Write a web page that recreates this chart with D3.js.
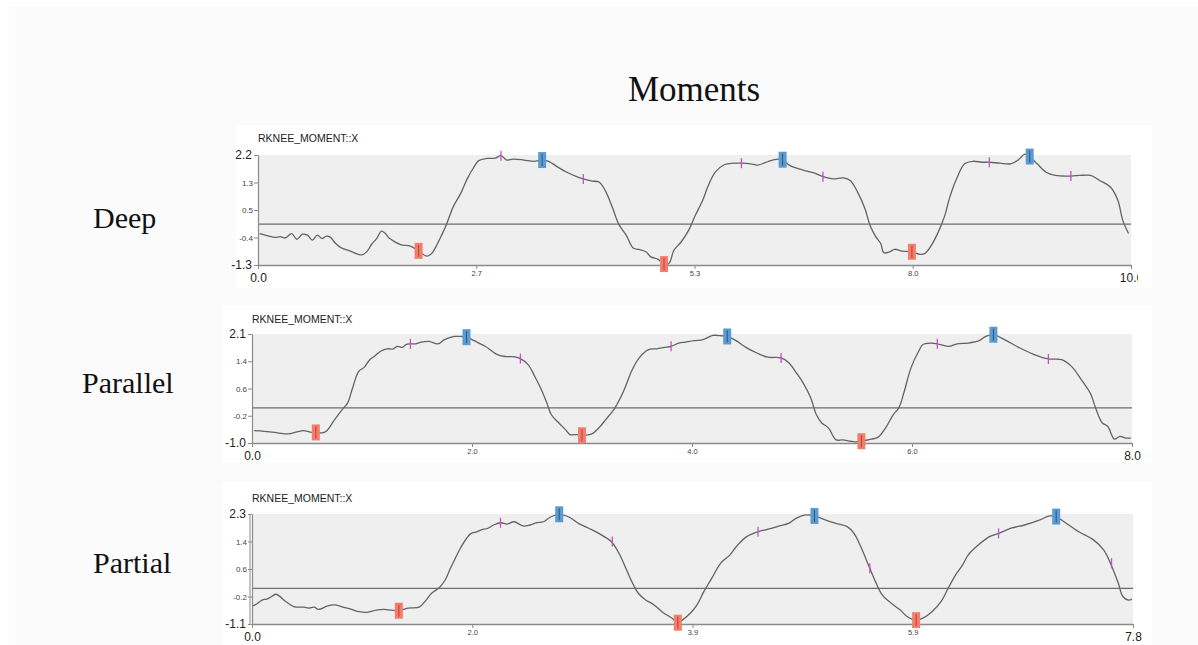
<!DOCTYPE html>
<html>
<head>
<meta charset="utf-8">
<script src="https://cdn.jsdelivr.net/npm/d3@7"></script>
<style>
  body { margin: 0; background: #fff; }
  svg { display: block; }
</style>
</head>
<body>
<svg id="chart" width="1198" height="645"></svg>
<script>
// knee moment traces, [time, moment]
const deepSeries = [[0.02,-0.30],[0.13,-0.38],[0.21,-0.42],[0.27,-0.40],[0.33,-0.44],[0.41,-0.30],[0.47,-0.48],[0.54,-0.32],[0.60,-0.35],[0.66,-0.51],[0.72,-0.35],[0.78,-0.46],[0.83,-0.38],[0.88,-0.42],[0.94,-0.61],[1.00,-0.74],[1.12,-0.86],[1.26,-0.98],[1.32,-0.88],[1.38,-0.64],[1.44,-0.46],[1.50,-0.22],[1.54,-0.28],[1.60,-0.46],[1.73,-0.65],[1.85,-0.70],[1.95,-0.85],[2.05,-1.02],[2.11,-0.93],[2.17,-0.67],[2.23,-0.35],[2.29,0.0],[2.37,0.55],[2.46,0.97],[2.54,1.44],[2.62,1.81],[2.68,2.02],[2.78,2.09],[2.88,2.10],[2.95,2.18],[3.02,2.04],[3.10,2.07],[3.23,2.04],[3.35,2.0],[3.45,2.04],[3.53,2.0],[3.63,1.83],[3.75,1.65],[3.87,1.51],[3.95,1.44],[4.06,1.37],[4.14,1.34],[4.22,1.05],[4.30,0.55],[4.38,0.0],[4.47,-0.35],[4.56,-0.77],[4.62,-0.80],[4.71,-0.88],[4.77,-1.04],[4.86,-1.12],[4.93,-1.27],[4.99,-1.25],[5.05,-0.83],[5.14,-0.56],[5.23,-0.19],[5.31,0.28],[5.40,0.76],[5.46,1.18],[5.55,1.65],[5.66,1.89],[5.77,1.94],[5.87,1.94],[5.98,1.92],[6.07,1.88],[6.20,2.0],[6.31,2.07],[6.37,2.05],[6.46,1.86],[6.61,1.73],[6.76,1.62],[6.86,1.51],[6.98,1.44],[7.11,1.47],[7.19,1.39],[7.28,1.02],[7.37,0.49],[7.43,-0.03],[7.50,-0.40],[7.56,-0.61],[7.60,-0.91],[7.67,-0.88],[7.73,-0.80],[7.82,-0.86],[7.94,-0.88],[8.04,-0.96],[8.10,-0.93],[8.19,-0.61],[8.27,-0.19],[8.34,0.28],[8.40,0.86],[8.49,1.49],[8.58,1.92],[8.68,2.0],[8.79,1.97],[8.88,1.97],[9.01,1.94],[9.14,1.92],[9.23,2.04],[9.31,2.23],[9.37,2.15],[9.46,1.92],[9.57,1.65],[9.68,1.55],[9.87,1.53],[9.98,1.55],[10.11,1.55],[10.22,1.39],[10.35,1.18],[10.44,0.76],[10.50,0.12],[10.57,-0.30]];
const parallelSeries = [[0.02,-0.65],[0.11,-0.67],[0.23,-0.71],[0.33,-0.74],[0.40,-0.69],[0.47,-0.65],[0.53,-0.69],[0.58,-0.70],[0.64,-0.71],[0.68,-0.65],[0.75,-0.34],[0.82,-0.05],[0.87,0.14],[0.91,0.52],[0.97,1.04],[1.02,1.15],[1.07,1.37],[1.11,1.46],[1.17,1.61],[1.23,1.68],[1.28,1.67],[1.32,1.75],[1.37,1.72],[1.40,1.80],[1.44,1.82],[1.49,1.82],[1.54,1.87],[1.61,1.89],[1.69,1.82],[1.75,1.94],[1.84,2.03],[1.90,2.03],[1.95,2.01],[2.02,1.91],[2.12,1.75],[2.22,1.53],[2.30,1.46],[2.39,1.45],[2.44,1.40],[2.51,1.23],[2.57,0.90],[2.63,0.52],[2.68,0.14],[2.72,-0.19],[2.79,-0.43],[2.85,-0.62],[2.89,-0.76],[2.95,-0.76],[3.00,-0.78],[3.09,-0.74],[3.15,-0.58],[3.22,-0.32],[3.30,0.0],[3.36,0.35],[3.40,0.64],[3.45,1.04],[3.52,1.42],[3.60,1.65],[3.68,1.68],[3.75,1.72],[3.81,1.75],[3.88,1.84],[3.94,1.87],[4.02,1.91],[4.10,1.94],[4.19,2.06],[4.27,2.05],[4.32,2.03],[4.40,1.91],[4.49,1.72],[4.59,1.56],[4.69,1.44],[4.81,1.42],[4.88,1.28],[4.95,0.99],[5.01,0.71],[5.08,0.28],[5.13,-0.19],[5.18,-0.43],[5.24,-0.57],[5.31,-0.91],[5.37,-0.91],[5.44,-0.95],[5.50,-0.97],[5.54,-0.95],[5.63,-0.89],[5.69,-0.84],[5.76,-0.57],[5.83,-0.19],[5.88,0.0],[5.93,0.47],[5.99,1.13],[6.06,1.61],[6.10,1.80],[6.17,1.84],[6.23,1.82],[6.33,1.75],[6.41,1.82],[6.51,1.84],[6.61,1.91],[6.67,2.03],[6.74,2.08],[6.84,1.94],[6.97,1.72],[7.10,1.53],[7.24,1.39],[7.36,1.37],[7.45,1.18],[7.55,0.75],[7.62,0.42],[7.68,-0.10],[7.73,-0.43],[7.78,-0.53],[7.84,-0.89],[7.89,-0.81],[7.94,-0.86],[7.99,-0.86]];
const partialSeries = [[0.01,-0.54],[0.04,-0.48],[0.09,-0.36],[0.13,-0.33],[0.16,-0.28],[0.21,-0.18],[0.24,-0.23],[0.30,-0.41],[0.37,-0.56],[0.46,-0.58],[0.50,-0.61],[0.55,-0.58],[0.59,-0.65],[0.67,-0.54],[0.73,-0.51],[0.79,-0.56],[0.88,-0.65],[0.95,-0.72],[1.02,-0.74],[1.10,-0.67],[1.17,-0.65],[1.23,-0.67],[1.30,-0.69],[1.38,-0.61],[1.48,-0.58],[1.53,-0.41],[1.59,-0.15],[1.66,0.03],[1.71,0.26],[1.75,0.57],[1.80,0.93],[1.84,1.21],[1.90,1.55],[1.94,1.70],[1.99,1.75],[2.03,1.81],[2.09,1.86],[2.14,1.96],[2.20,2.03],[2.26,1.99],[2.32,2.06],[2.40,1.93],[2.46,1.96],[2.52,2.03],[2.58,2.06],[2.64,2.20],[2.72,2.29],[2.81,2.20],[2.89,2.01],[2.98,1.86],[3.07,1.70],[3.18,1.45],[3.25,1.08],[3.31,0.62],[3.37,0.16],[3.42,-0.15],[3.48,-0.34],[3.56,-0.51],[3.64,-0.75],[3.72,-0.92],[3.77,-1.06],[3.81,-0.98],[3.88,-0.77],[3.94,-0.51],[4.00,-0.10],[4.07,0.31],[4.15,0.78],[4.23,1.03],[4.30,1.34],[4.38,1.60],[4.48,1.75],[4.57,1.83],[4.67,1.93],[4.75,2.01],[4.82,2.17],[4.90,2.27],[4.98,2.24],[5.08,2.11],[5.17,2.01],[5.27,1.91],[5.33,1.70],[5.39,1.29],[5.47,0.62],[5.52,0.21],[5.58,-0.20],[5.66,-0.46],[5.74,-0.67],[5.80,-0.87],[5.88,-0.98],[5.94,-0.92],[6.02,-0.72],[6.10,-0.41],[6.17,0.05],[6.23,0.42],[6.29,0.72],[6.34,1.03],[6.43,1.34],[6.53,1.60],[6.61,1.70],[6.72,1.86],[6.84,1.96],[6.97,2.11],[7.06,2.24],[7.12,2.22],[7.19,2.06],[7.32,1.75],[7.45,1.50],[7.54,1.19],[7.60,0.78],[7.67,0.16],[7.71,-0.25],[7.76,-0.36],[7.79,-0.33]];

// event markers: minima (red), maxima (blue), intermediate ticks (magenta)
const deepMin = [[1.95,-0.85],[4.93,-1.27],[7.94,-0.88]];
const deepMax = [[3.45,2.04],[6.37,2.05],[9.37,2.15]];
const deepMid = [[2.95,2.18],[3.95,1.44],[5.87,1.94],[6.86,1.51],[8.88,1.97],[9.87,1.53]];
const parallelMin = [[0.58,-0.70],[3.00,-0.78],[5.54,-0.95]];
const parallelMax = [[1.95,2.01],[4.32,2.03],[6.74,2.08]];
const parallelMid = [[1.44,1.82],[2.44,1.40],[3.81,1.75],[4.81,1.42],[6.23,1.82],[7.24,1.39]];
const partialMin = [[1.30,-0.69],[3.77,-1.06],[5.88,-0.98]];
const partialMax = [[2.72,2.29],[4.98,2.24],[7.12,2.22]];
const partialMid = [[2.20,2.03],[3.19,1.45],[4.48,1.75],[5.47,0.62],[6.61,1.70],[7.61,0.78]];

// tick labels as printed
const deepXLabels = ["0.0", "2.7", "5.3", "8.0", "10.6"];
const deepYLabels = ["-1.3", "-0.4", "0.5", "1.3", "2.2"];
const parallelXLabels = ["0.0", "2.0", "4.0", "6.0", "8.0"];
const parallelYLabels = ["-1.0", "-0.2", "0.6", "1.4", "2.1"];
const partialXLabels = ["0.0", "2.0", "3.9", "5.9", "7.8"];
const partialYLabels = ["-1.1", "-0.2", "0.6", "1.4", "2.3"];

const rowNames = ["Deep", "Parallel", "Partial"];
const panelTitle = "RKNEE_MOMENT::X";

const panels = [
    { name: rowNames[0], series: deepSeries, mins: deepMin, maxs: deepMax, mids: deepMid,
      xMax: 10.6, yMin: -1.3, yMax: 2.2, xLabels: deepXLabels, yLabels: deepYLabels,
      box: [236, 125, 1152, 288], plot: [258, 155, 1131, 265], clipRight: 1138,
      titleY: 142, labelX: 93, labelY: 228 },
    { name: rowNames[1], series: parallelSeries, mins: parallelMin, maxs: parallelMax, mids: parallelMid,
      xMax: 8.0, yMin: -1.0, yMax: 2.1, xLabels: parallelXLabels, yLabels: parallelYLabels,
      box: [222, 305, 1152, 463], plot: [252, 334, 1132, 443], clipRight: 1141,
      titleY: 323, labelX: 82, labelY: 393 },
    { name: rowNames[2], series: partialSeries, mins: partialMin, maxs: partialMax, mids: partialMid,
      xMax: 7.8, yMin: -1.1, yMax: 2.3, xLabels: partialXLabels, yLabels: partialYLabels,
      box: [222, 482, 1152, 645], plot: [252, 514, 1133, 624], clipRight: 1145,
      titleY: 502, labelX: 93, labelY: 573, doubleAxis: true }
];

const svg = d3.select("#chart");
const defs = svg.append("defs");

// slide background
svg.append("rect")
    .attr("x", 9).attr("y", 7)
    .attr("width", 1189).attr("height", 638)
    .attr("fill", "#fbfbfb");

svg.append("text")
    .attr("x", 694).attr("y", 101)
    .attr("text-anchor", "middle")
    .style("font-family", "'Liberation Serif', 'Times New Roman', serif")
    .style("font-size", "35px")
    .attr("fill", "#111")
    .text("Moments");

panels.forEach((p, idx) => drawPanel(p, idx));

function drawPanel(p, idx)
{
    const [px0, py0, px1, py1] = p.plot;
    const xScale = d3.scaleLinear().domain([0, p.xMax]).range([px0, px1]);
    const yScale = d3.scaleLinear().domain([p.yMin, p.yMax]).range([py1, py0]);
    const isEnd = i => i == 0 || i == 4;

    // row label
    svg.append("text")
        .attr("x", p.labelX).attr("y", p.labelY)
        .style("font-family", "'Liberation Serif', 'Times New Roman', serif")
        .style("font-size", "30px")
        .attr("fill", "#111")
        .text(p.name);

    svg.append("rect")
        .attr("x", p.box[0]).attr("y", p.box[1])
        .attr("width", p.box[2] - p.box[0]).attr("height", p.box[3] - p.box[1])
        .attr("fill", "#fff");

    // the exported chart image cuts the last x label
    defs.append("clipPath").attr("id", "clip" + idx)
        .append("rect")
        .attr("x", 0).attr("y", p.box[1])
        .attr("width", p.clipRight).attr("height", p.box[3] - p.box[1]);

    const g = svg.append("g").attr("clip-path", `url(#clip${idx})`);

    g.append("rect")
        .attr("x", px0).attr("y", py0)
        .attr("width", px1 - px0).attr("height", py1 - py0)
        .attr("fill", "#efefef");

    g.append("text")
        .attr("x", px0).attr("y", p.titleY)
        .style("font-family", "'Liberation Sans', Arial, sans-serif")
        .style("font-size", "10.5px")
        .attr("fill", "#222")
        .text(panelTitle);

    // zero reference line
    g.append("line")
        .attr("x1", px0).attr("x2", px1)
        .attr("y1", yScale(0)).attr("y2", yScale(0))
        .attr("stroke", "#6e6e6e").attr("stroke-width", 1.2);

    const yTicks = d3.range(5).map(i => p.yMin + i * (p.yMax - p.yMin) / 4);
    const xTicks = d3.range(5).map(i => i * p.xMax / 4);

    const yAxis = g.append("g")
        .attr("transform", `translate(${px0},0)`)
        .call(d3.axisLeft(yScale).tickValues(yTicks)
            .tickFormat((d, i) => p.yLabels[i])
            .tickSize(4).tickSizeOuter(0));
    yAxis.select(".domain").attr("stroke", "#8a8a8a").attr("stroke-width", 1.2);
    yAxis.selectAll(".tick line").attr("stroke", "#8a8a8a");
    yAxis.selectAll(".tick text")
        .style("font-family", "'Liberation Sans', Arial, sans-serif")
        .style("font-size", (d, i) => isEnd(i) ? "12px" : "8px")
        .attr("fill", (d, i) => isEnd(i) ? "#222" : "#444")
        .attr("x", (d, i) => isEnd(i) ? -6 : -5);

    if (p.doubleAxis) {
        g.append("line")
            .attr("x1", px0 - 2).attr("x2", px0 - 2)
            .attr("y1", py0).attr("y2", py1)
            .attr("stroke", "#8a8a8a").attr("stroke-width", 1);
    }

    const xAxis = g.append("g")
        .attr("transform", `translate(0,${py1})`)
        .call(d3.axisBottom(xScale).tickValues(xTicks)
            .tickFormat((d, i) => p.xLabels[i])
            .tickSize(4).tickSizeOuter(0));
    xAxis.select(".domain").attr("stroke", "#8a8a8a").attr("stroke-width", 1.6);
    xAxis.selectAll(".tick line").attr("stroke", "#8a8a8a");
    xAxis.selectAll(".tick text")
        .attr("dy", null)
        .attr("y", (d, i) => isEnd(i) ? 17 : 11)
        .style("font-family", "'Liberation Sans', Arial, sans-serif")
        .style("font-size", (d, i) => isEnd(i) ? "12px" : "7.5px")
        .attr("fill", (d, i) => isEnd(i) ? "#222" : "#444");

    const line = d3.line()
        .x(d => xScale(d[0]))
        .y(d => yScale(d[1]))
        .curve(d3.curveCatmullRom.alpha(0.5));

    g.append("path")
        .datum(p.series)
        .attr("d", line)
        .attr("fill", "none")
        .attr("stroke", "#636363")
        .attr("stroke-width", 1.3);

    g.selectAll(".mid")
        .data(p.mids)
        .enter()
        .append("line")
        .attr("class", "mid")
        .attr("x1", d => xScale(d[0])).attr("x2", d => xScale(d[0]))
        .attr("y1", d => yScale(d[1]) - 5).attr("y2", d => yScale(d[1]) + 5)
        .attr("stroke", "#c84fc8").attr("stroke-width", 1.3);

    drawBoxes(g, p.mins, xScale, yScale, "#f47e6c", "#b0423a");
    drawBoxes(g, p.maxs, xScale, yScale, "#5c9bd1", "#2a5680");
}

function drawBoxes(g, data, xScale, yScale, fill, stroke)
{
    const sel = g.append("g").selectAll("g")
        .data(data)
        .enter()
        .append("g")
        .attr("transform", d => `translate(${xScale(d[0])},${yScale(d[1])})`);
    sel.append("rect")
        .attr("x", -4).attr("y", -8)
        .attr("width", 8).attr("height", 16)
        .attr("fill", fill);
    sel.append("line")
        .attr("x1", 0).attr("x2", 0)
        .attr("y1", -6).attr("y2", 6)
        .attr("stroke", stroke).attr("stroke-width", 1);
}
</script>
</body>
</html>
